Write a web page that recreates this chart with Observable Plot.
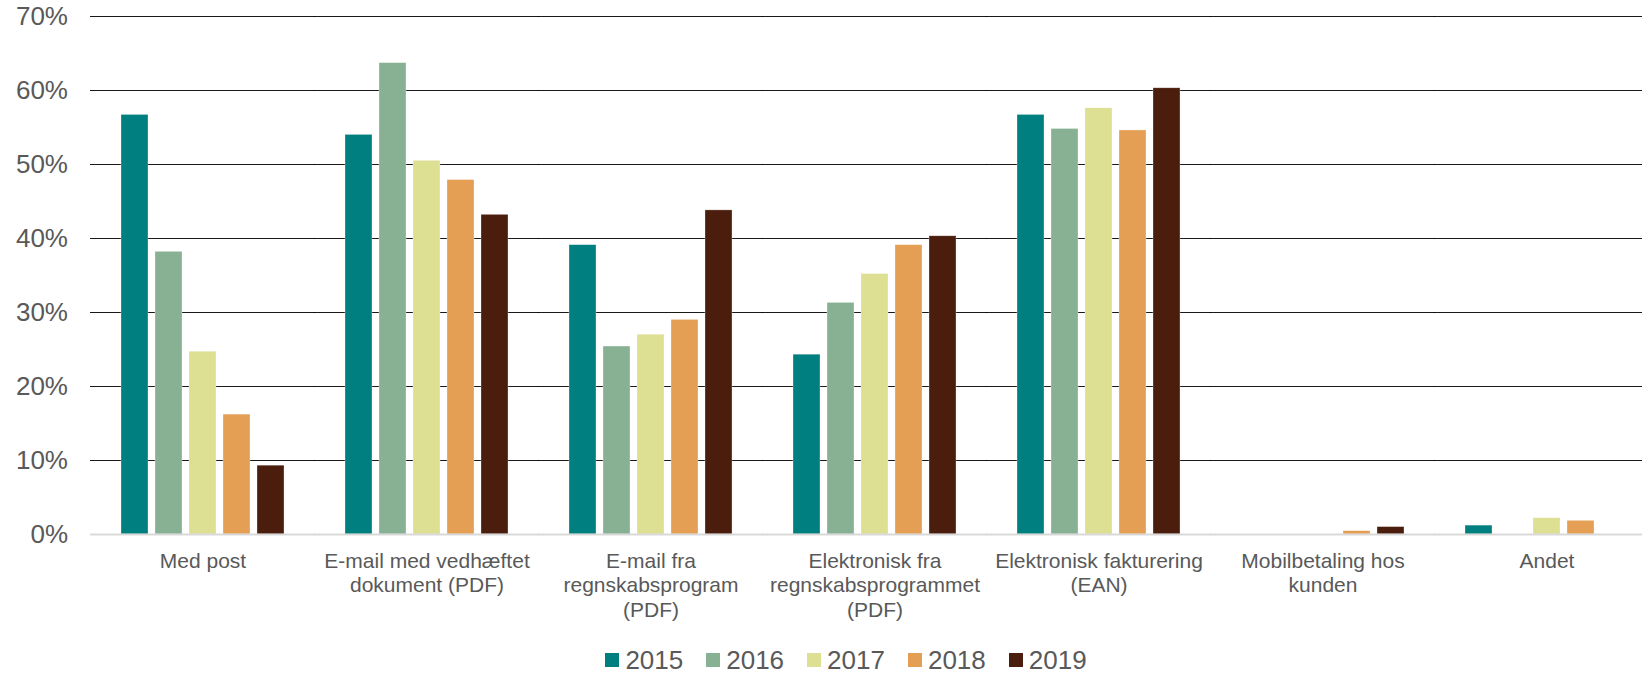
<!DOCTYPE html>
<html>
<head>
<meta charset="utf-8">
<script src="https://cdn.jsdelivr.net/npm/d3@7"></script>
<script src="https://cdn.jsdelivr.net/npm/@observablehq/plot@0.6"></script>
<style>
  html, body { margin: 0; padding: 0; background: #fff; overflow: hidden; }
  body { font-family: "Liberation Sans", Arial, sans-serif; }
  #chart { width: 1661px; }
  #chart svg { display: block; max-width: none !important; }
  #legend { display: flex; justify-content: center; align-items: center; height: 60px;
            padding-left: 50px; box-sizing: border-box; width: 1642px;
            font-size: 26px; color: #595959; }
  .item { display: flex; align-items: center; margin: 0 11.5px; }
  .sw { width: 14px; height: 14px; margin-right: 6px; }
</style>
</head>
<body>
<div id="chart"></div>
<div id="legend"></div>
<script>
const categories = [
  "Med post",
  "E-mail med vedhæftet dokument (PDF)",
  "E-mail fra regnskabsprogram (PDF)",
  "Elektronisk fra regnskabsprogrammet (PDF)",
  "Elektronisk fakturering (EAN)",
  "Mobilbetaling hos kunden",
  "Andet"
];
const categoryLabels = [
  "Med post",
  "E-mail med vedhæftet\ndokument (PDF)",
  "E-mail fra\nregnskabsprogram\n(PDF)",
  "Elektronisk fra\nregnskabsprogrammet\n(PDF)",
  "Elektronisk fakturering\n(EAN)",
  "Mobilbetaling hos\nkunden",
  "Andet"
];
const years = ["2015", "2016", "2017", "2018", "2019"];
const colors = ["#007F80", "#88B092", "#DDDF93", "#E49F54", "#4B1D0C"];
const v2015 = [56.7, 54.0, 39.1, 24.3, 56.7, null, 1.2];
const v2016 = [38.2, 63.7, 25.4, 31.3, 54.8, null, null];
const v2017 = [24.7, 50.5, 27.0, 35.2, 57.6, null, 2.2];
const v2018 = [16.2, 47.9, 29.0, 39.1, 54.6, 0.45, 1.85];
const v2019 = [9.3, 43.2, 43.8, 40.3, 60.3, 1.0, null];
const yTicks = [0, 10, 20, 30, 40, 50, 60, 70];

const series = [v2015, v2016, v2017, v2018, v2019];
const rows = [];
categories.forEach((c, i) => {
  years.forEach((y, j) => {
    const v = series[j][i];
    if (v != null) rows.push({category: c, year: y, value: v});
  });
});
const labelOf = new Map(categories.map((c, i) => [c, categoryLabels[i]]));

const chart = Plot.plot({
  width: 1661,
  height: 630,
  marginLeft: 89,
  marginRight: 0,
  marginTop: 16,
  marginBottom: 96,
  style: {fontFamily: "'Liberation Sans', Arial, sans-serif", color: "#595959", background: "#fff", maxWidth: "none"},
  fx: {domain: categories, paddingInner: 0.263, paddingOuter: 0.125, axis: null},
  x: {domain: years, paddingInner: 0.21, paddingOuter: 0, axis: null},
  y: {domain: [0, 70], axis: null},
  color: {domain: years, range: colors},
  marks: [
    Plot.ruleY(yTicks.filter(d => d > 0), {y: d => d, insetLeft: -30, insetRight: -30, stroke: "#000", strokeWidth: 1, strokeOpacity: 0.9, shapeRendering: "crispEdges"}),
    Plot.barY(rows, {fx: "category", x: "year", y: "value", fill: "year", stroke: "#fff", strokeWidth: 0.6, strokeOpacity: 0.5}),
    Plot.ruleY([0], {insetLeft: -30, insetRight: -30, stroke: "#d9d9d9", strokeWidth: 2}),
    Plot.axisY({ticks: yTicks, tickSize: 0, tickPadding: 52.5, fontSize: 26, tickFormat: d => d + "%", label: null, fill: "#595959"}),
    Plot.axisFx({anchor: "bottom", tickSize: 0, tickPadding: 16, fontSize: 21, lineHeight: 1.167, tickFormat: d => labelOf.get(d), label: null, fill: "#595959"})
  ]
});
document.getElementById("chart").appendChild(chart);

const legend = document.getElementById("legend");
years.forEach((y, i) => {
  const it = document.createElement("div");
  it.className = "item";
  it.innerHTML = `<div class="sw" style="background:${colors[i]}"></div><span>${y}</span>`;
  legend.appendChild(it);
});
</script>
</body>
</html>
